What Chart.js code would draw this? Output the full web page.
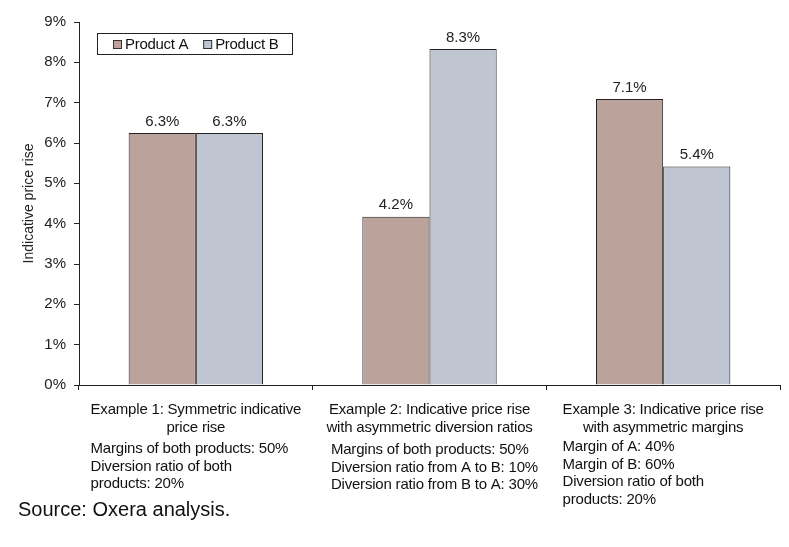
<!DOCTYPE html>
<html>
<head>
<meta charset="utf-8">
<script src="https://cdn.jsdelivr.net/npm/chart.js@4"></script>
<style>
  body { margin: 0; background: #fff; }
  #wrap { position: relative; width: 789px; height: 547px; }
</style>
</head>
<body>
<div id="wrap"><canvas id="chart" width="789" height="547"></canvas></div>
<script>
// Data
const categories = ['Example 1', 'Example 2', 'Example 3'];
const productA = [6.25, 4.17, 7.09];
const productB = [6.25, 8.33, 5.42];
const yTicks = [0, 1, 2, 3, 4, 5, 6, 7, 8, 9];

// Category captions: centered title lines, then left-aligned notes
const captionTitles = [
    ['Example 1: Symmetric indicative', 'price rise'],
    ['Example 2: Indicative price rise', 'with asymmetric diversion ratios'],
    ['Example 3: Indicative price rise', 'with asymmetric margins']
];
const captionNotes = [
    ['Margins of both products: 50%', 'Diversion ratio of both', 'products: 20%'],
    ['Margins of both products: 50%', 'Diversion ratio from A to B: 10%', 'Diversion ratio from B to A: 30%'],
    ['Margin of A: 40%', 'Margin of B: 60%', 'Diversion ratio of both', 'products: 20%']
];
const sourceNote = 'Source: Oxera analysis.';

const FONT = '"Liberation Sans", Arial, sans-serif';
const colorA = '#BBA39C';
const colorB = '#BFC6D2';
// small indent of each notes block from its title's left edge
const noteIndent = [0, 2, 0];
const noteTop = [64, 65, 62];

// Values above bars
const barLabels = {
    id: 'barLabels',
    afterDatasetsDraw(chart) {
        const ctx = chart.ctx;
        ctx.save();
        ctx.font = '15px ' + FONT;
        ctx.fillStyle = '#222';
        ctx.textAlign = 'center';
        ctx.textBaseline = 'bottom';
        chart.data.datasets.forEach((ds, i) => {
            chart.getDatasetMeta(i).data.forEach((bar, j) => {
                ctx.fillText(ds.data[j].toFixed(1) + '%', bar.x, bar.y - 4);
            });
        });
        ctx.restore();
    }
};

// Legend box inside the plot, top left
const boxLegend = {
    id: 'boxLegend',
    afterDraw(chart) {
        const ctx = chart.ctx;
        const left = chart.chartArea.left + 18;
        const top = chart.chartArea.top + 11;
        ctx.save();
        ctx.font = '15px ' + FONT;
        ctx.letterSpacing = '-0.3px';
        ctx.fillStyle = '#fff';
        ctx.fillRect(left, top, 195, 21);
        ctx.strokeStyle = '#222';
        ctx.lineWidth = 1;
        ctx.strokeRect(left + 0.5, top + 0.5, 195, 21);
        ctx.textBaseline = 'middle';
        let x = left + 16;
        chart.data.datasets.forEach(ds => {
            ctx.fillStyle = ds.backgroundColor;
            ctx.fillRect(x, top + 7, 9, 9);
            ctx.strokeStyle = '#333';
            ctx.strokeRect(x + 0.5, top + 7.5, 8, 8);
            ctx.fillStyle = '#111';
            ctx.fillText(ds.label, x + 12, top + 11.5);
            x += 12 + ctx.measureText(ds.label).width + 15;
        });
        ctx.restore();
    }
};

// Captions under each category, and the source line
const captions = {
    id: 'captions',
    afterDraw(chart) {
        const ctx = chart.ctx;
        const xs = chart.scales.x;
        const base = chart.chartArea.bottom;
        ctx.save();
        ctx.font = '15px ' + FONT;
        ctx.letterSpacing = '-0.2px';
        ctx.fillStyle = '#111';
        ctx.textBaseline = 'middle';
        categories.forEach((c, i) => {
            const cx = xs.getPixelForValue(i);
            ctx.textAlign = 'center';
            captionTitles[i].forEach((line, k) => {
                ctx.fillText(line, cx, base + 25 + k * 17.5);
            });
            const left = cx - ctx.measureText(captionTitles[i][0]).width / 2 + noteIndent[i];
            ctx.textAlign = 'left';
            captionNotes[i].forEach((line, k) => {
                ctx.fillText(line, left, base + noteTop[i] + k * 17.5);
            });
        });
        ctx.font = '20px ' + FONT;
        ctx.letterSpacing = '0px';
        ctx.textAlign = 'left';
        ctx.fillText(sourceNote, 18, 510);
        ctx.restore();
    }
};

new Chart(document.getElementById('chart'), {
    type: 'bar',
    data: {
        labels: categories,
        datasets: [
            { label: 'Product A', data: productA, backgroundColor: colorA, borderColor: '#222', borderWidth: 1 },
            { label: 'Product B', data: productB, backgroundColor: colorB, borderColor: '#222', borderWidth: 1 }
        ]
    },
    options: {
        responsive: false,
        animation: false,
        layout: { padding: { top: 22, right: 9, left: 0, bottom: 0 } },
        plugins: {
            legend: { display: false },
            tooltip: { enabled: false }
        },
        datasets: {
            bar: { barPercentage: 1, categoryPercentage: 0.575 }
        },
        scales: {
            x: {
                grid: { display: true, drawOnChartArea: false, offset: true, color: '#222', tickLength: 5 },
                border: { color: '#222', width: 1 },
                ticks: { display: false },
                afterFit(scale) { scale.height = 162; }
            },
            y: {
                min: 0,
                max: 9,
                afterBuildTicks(scale) { scale.ticks = yTicks.map(v => ({ value: v })); },
                grid: { display: true, drawOnChartArea: false, color: '#222', tickLength: 5 },
                border: { color: '#222', width: 1 },
                ticks: {
                    font: { family: FONT, size: 15 },
                    color: '#222',
                    padding: 8,
                    callback: v => v + '%'
                },
                title: {
                    display: true,
                    text: 'Indicative price rise',
                    font: { family: FONT, size: 14 },
                    color: '#222',
                    padding: { top: 21, bottom: 6 }
                },
                afterFit(scale) { scale.width = 79; }
            }
        }
    },
    plugins: [barLabels, boxLegend, captions]
});
</script>
</body>
</html>
